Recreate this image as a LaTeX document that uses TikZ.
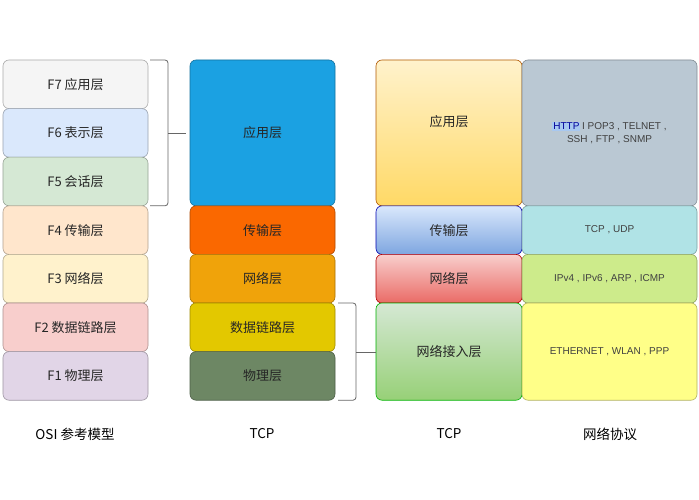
\documentclass[tikz,border=0pt]{standalone}
\usepackage{fontspec}
\setmainfont{Noto Sans CJK SC}
\newfontfamily\lat{Liberation Sans}
\begin{document}
\begin{tikzpicture}[x=1pt,y=-1pt,
  bx/.style={draw=#1!70!black, rounded corners=6pt, line width=0.6pt},
  lb/.style={font=\fontsize{13}{15}\selectfont, text=black!85},
  pr/.style={font=\lat\fontsize{10}{13}\selectfont, text=black!75, align=center},
  br/.style={draw=black!60, line width=0.8pt, rounded corners=3pt}]
\useasboundingbox[fill=white] (0,0) rectangle (699,500);
\definecolor{c7}{HTML}{F5F5F5}\definecolor{c6}{HTML}{DAE8FC}\definecolor{c5}{HTML}{D5E8D4}
\definecolor{c4}{HTML}{FFE6CC}\definecolor{c3}{HTML}{FFF2CC}\definecolor{c2}{HTML}{F8CECC}
\definecolor{c1}{HTML}{E1D5E7}
\definecolor{tA}{HTML}{1BA1E2}\definecolor{tT}{HTML}{FA6800}\definecolor{tN}{HTML}{F0A30A}
\definecolor{tD}{HTML}{E3C800}\definecolor{tP}{HTML}{6D8764}
\definecolor{gA}{HTML}{BAC8D3}\definecolor{gT}{HTML}{B0E3E6}\definecolor{gN}{HTML}{CDEB8B}\definecolor{gD}{HTML}{FFFF88}
\definecolor{hl}{HTML}{A8C8F0}
% OSI
\foreach \c/\t/\y in {c7/F7 应用层/60,c6/F6 表示层/108.6,c5/F5 会话层/157.2,c4/F4 传输层/205.8,c3/F3 网络层/254.4,c2/F2 数据链路层/303,c1/F1 物理层/351.6}{
  \draw[bx=\c, fill=\c] (3,\y) rectangle (148,\y+48.6);
  \node[lb] at (75.5,\y+24.3) {\t};}
% five layer
\foreach \c/\t/\ya/\yb in {tA/应用层/60/205.8,tT/传输层/205.8/254.4,tN/网络层/254.4/303,tD/数据链路层/303/351.6,tP/物理层/351.6/400.2}{
  \draw[bx=\c, fill=\c] (190,\ya) rectangle (335,\yb);
  \node[lb] at (262.5,{(\ya+\yb)/2}) {\t};}
% four layer
\draw[bx=orange, top color=c3, bottom color={rgb,255:red,255;green,217;blue,102}] (376,60) rectangle (522,205.8);
\node[lb] at (449,122) {应用层};
\draw[bx=blue, top color=c6, bottom color={rgb,255:red,126;green,166;blue,224}] (376,205.8) rectangle (522,254.4);
\node[lb] at (449,230.1) {传输层};
\draw[bx=red, top color=c2, bottom color={rgb,255:red,234;green,107;blue,102}] (376,254.4) rectangle (522,303);
\node[lb] at (449,278.7) {网络层};
\draw[bx=green, top color=c5, bottom color={rgb,255:red,151;green,208;blue,119}] (376,303) rectangle (522,400.2);
\node[lb] at (449,351.6) {网络接入层};
% protocols
\draw[bx=gA, fill=gA] (522,60) rectangle (697,205.8);
\node[pr] at (609.5,133) {{\setlength{\fboxsep}{1pt}\colorbox{hl}{\textcolor{blue!60!black}{HTTP}}}\,I POP3 , TELNET ,\\SSH , FTP , SNMP};
\draw[bx=gT, fill=gT] (522,205.8) rectangle (697,254.4);
\node[pr] at (609.5,230.1) {TCP , UDP};
\draw[bx=gN, fill=gN] (522,254.4) rectangle (697,303);
\node[pr] at (609.5,278.7) {IPv4 , IPv6 , ARP , ICMP};
\draw[bx=gD, fill=gD] (522,303) rectangle (697,400.2);
\node[pr] at (609.5,351.6) {ETHERNET , WLAN , PPP};
% brackets
\coordinate (b1) at (186,133);
\draw[br] (150,60) -- (168,60) -- (168,205.8) -- (150,205.8);
\draw[br] (168,133) -- (b1);
\coordinate (b2) at (376,352);
\draw[br] (338,303) -- (356,303) -- (356,400.2) -- (338,400.2);
\draw[br] (356,352) -- (b2);
% captions
\foreach \x/\t in {75/OSI 参考模型,262/TCP/IP 五层模型,449/TCP/IP 四层模型,610/网络协议}
  \node[lb, font=\fontsize{13.5}{15}\selectfont, text=black] at (\x,434) {\t};
\end{tikzpicture}
\end{document}
